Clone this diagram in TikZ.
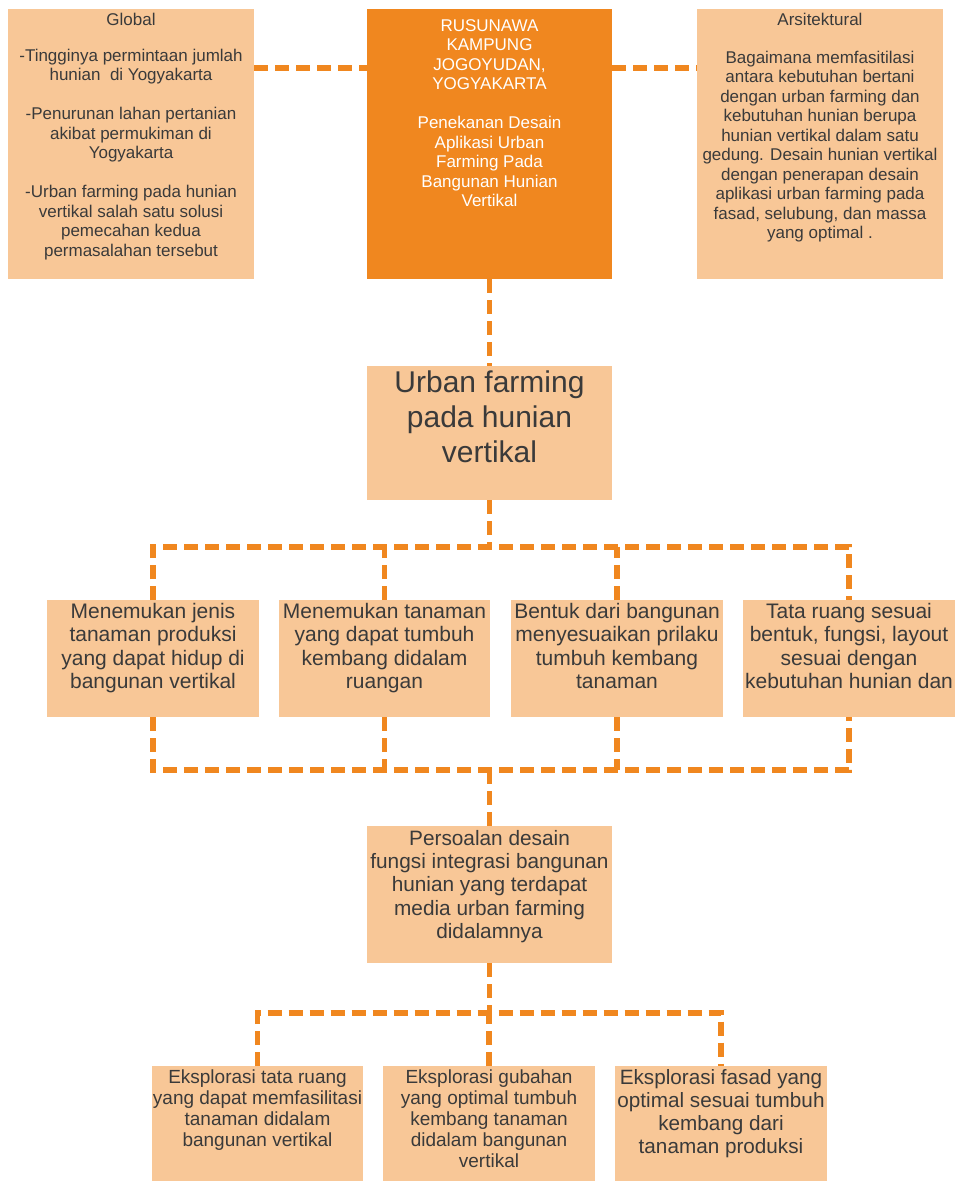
\documentclass[tikz,border=0pt]{standalone}
\usepackage{fontspec}
\setmainfont{Liberation Sans}
\usepackage{xcolor}
\usetikzlibrary{positioning, calc}
\definecolor{oranye}{HTML}{F0871F}
\definecolor{krem}{HTML}{F8C797}
\definecolor{tinta}{HTML}{3A3A3A}
\tikzstyle{kotak} = [rectangle, fill=krem, anchor=north west, inner sep=0pt, outer sep=0pt]
\tikzstyle{teks} = [anchor=north, align=center, inner sep=0pt, text=tinta]
\tikzstyle{putus} = [draw=oranye, line width=5.5pt, dash pattern=on 14pt off 7pt]
\newcommand{\ukuran}[2]{\fontsize{#1}{#2}\selectfont}

\begin{document}
\begin{tikzpicture}[x=1pt, y=-1pt]
\useasboundingbox (0,0) rectangle (957,1181);

% Top row
\node [kotak, minimum width=246pt, minimum height=270pt] (global) at (8,9) {};
\node [kotak, fill=oranye, minimum width=245pt, minimum height=270pt] (pusat) at (367,9) {};
\node [kotak, minimum width=246pt, minimum height=270pt] (arsi) at (697,9) {};

\node [teks, font=\ukuran{17}{19.5}, below=4pt of global.north] (tglobal) {Global\\[16pt]
  -Tingginya permintaan jumlah\\ hunian \ di Yogyakarta\\[19.5pt]
  -Penurunan lahan pertanian\\ akibat permukiman di\\ Yogyakarta\\[19.5pt]
  -Urban farming pada hunian\\ vertikal salah satu solusi\\ pemecahan kedua\\ permasalahan tersebut};
\node [teks, text=white, font=\ukuran{17}{19.5}, below=10pt of pusat.north] (tpusat) {RUSUNAWA\\ KAMPUNG\\ JOGOYUDAN,\\ YOGYAKARTA\\[19.5pt]
  Penekanan Desain\\ Aplikasi Urban\\ Farming Pada\\ Bangunan Hunian\\ Vertikal};
\node [teks, font=\ukuran{17}{19.5}, below=4pt of arsi.north] (tarsi) {Arsitektural\\[18pt]
  Bagaimana memfasitilasi\\ antara kebutuhan bertani\\ dengan urban farming dan\\ kebutuhan hunian berupa\\
  hunian vertikal dalam satu\\ gedung. Desain hunian vertikal\\ dengan penerapan desain\\
  aplikasi urban farming pada\\ fasad, selubung, dan massa\\ yang optimal .};

\draw [putus] ([yshift=-59pt]global.north east) -- ([yshift=-59pt]pusat.north west);
\draw [putus] ([yshift=-59pt]pusat.north east) -- ([yshift=-59pt]arsi.north west);

% Urban farming
\node [kotak, minimum width=245pt, minimum height=134pt] (urban) at (367,366) {};
\node [teks, font=\ukuran{30}{35}, below=5pt of urban.north] (turban) {Urban farming\\ pada hunian\\ vertikal};
\draw [putus] (pusat.south) -- (urban.north);

% Four aspects
\node [kotak, minimum width=212pt, minimum height=117pt] (aspek1) at (47,600) {};
\node [kotak, minimum width=211pt, minimum height=117pt] (aspek2) at (279,600) {};
\node [kotak, minimum width=212pt, minimum height=117pt] (aspek3) at (511,600) {};
\node [kotak, minimum width=212pt, minimum height=117pt] (aspek4) at (743,600) {};
\node [teks, font=\ukuran{21}{23.3}, below=3pt of aspek1.north] (taspek1) {Menemukan jenis\\ tanaman produksi\\ yang dapat hidup di\\ bangunan vertikal};
\node [teks, font=\ukuran{21}{23.3}, below=3pt of aspek2.north] (taspek2) {Menemukan tanaman\\ yang dapat tumbuh\\ kembang didalam\\ ruangan};
\node [teks, font=\ukuran{21}{23.3}, below=3pt of aspek3.north] (taspek3) {Bentuk dari bangunan\\ menyesuaikan prilaku\\ tumbuh kembang\\ tanaman};
\node [teks, font=\ukuran{21}{23.3}, below=3pt of aspek4.north] (taspek4) {Tata ruang sesuai\\ bentuk, fungsi, layout\\ sesuai dengan\\ kebutuhan hunian dan};

\coordinate (cabang1) at (489.5,547);
\coordinate (cabang2) at (489.5,770);
\draw [putus] (urban.south) -- (cabang1);
\draw [putus] (aspek1.north) -- (aspek1.north |- cabang1) -- (aspek4.north |- cabang1) -- (aspek4.north);
\draw [putus] (aspek2.north) -- (aspek2.north |- cabang1);
\draw [putus] (aspek3.north) -- (aspek3.north |- cabang1);
\draw [putus] (aspek1.south) -- (aspek1.south |- cabang2) -- (aspek4.south |- cabang2) -- (aspek4.south);
\draw [putus] (aspek2.south) -- (aspek2.south |- cabang2);
\draw [putus] (aspek3.south) -- (aspek3.south |- cabang2);

% Persoalan desain
\node [kotak, minimum width=245pt, minimum height=137pt] (soal) at (367,826) {};
\node [teks, font=\ukuran{20.8}{23.3}, below=4pt of soal.north] (tsoal) {Persoalan desain\\ fungsi integrasi bangunan\\ hunian yang terdapat\\ media urban farming\\ didalamnya};
\draw [putus] (cabang2) -- (soal.north);

% Exploration
\node [kotak, minimum width=211pt, minimum height=115pt] (eks1) at (152,1066) {};
\node [kotak, minimum width=212pt, minimum height=115pt] (eks2) at (383,1066) {};
\node [kotak, minimum width=212pt, minimum height=115pt] (eks3) at (615,1066) {};
\node [teks, font=\ukuran{19}{21}, below=4pt of eks1.north] (teks1) {Eksplorasi tata ruang\\ yang dapat memfasilitasi\\ tanaman didalam\\ bangunan vertikal};
\node [teks, font=\ukuran{19}{21}, below=4pt of eks2.north] (teks2) {Eksplorasi gubahan\\ yang optimal tumbuh\\ kembang tanaman\\ didalam bangunan\\ vertikal};
\node [teks, font=\ukuran{20.7}{23}, below=3pt of eks3.north] (teks3) {Eksplorasi fasad yang\\ optimal sesuai tumbuh\\ kembang dari\\ tanaman produksi};

\coordinate (cabang3) at (489.5,1013);
\draw [putus] (soal.south) -- (cabang3);
\draw [putus] (eks1.north) -- (eks1.north |- cabang3) -- (eks3.north |- cabang3) -- (eks3.north);
\draw [putus] (eks2.north) -- (eks2.north |- cabang3);

\end{tikzpicture}
\end{document}
